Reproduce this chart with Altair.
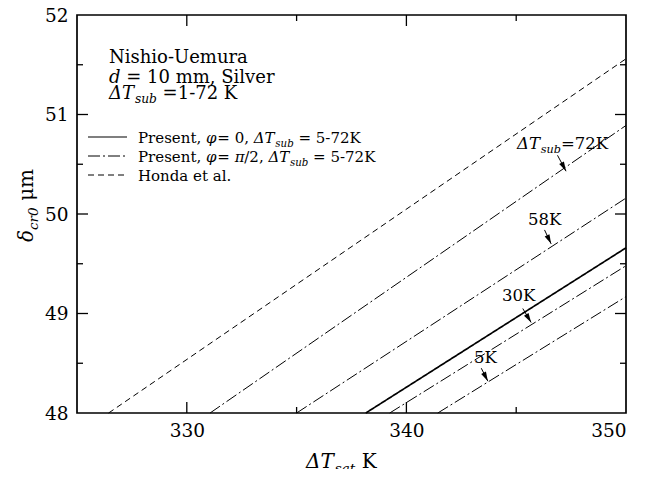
import math
import altair as alt
import pandas as pd

# ---------------- data ----------------
series = ["Honda et al.", "72K", "58K", "Present phi=0", "30K", "5K"]
kinds = ["dashed", "dashdot", "dashdot", "solid", "dashdot", "dashdot"]
x_start = [326.44, 331.06, 335.0, 338.15, 339.24, 341.43]
y_start = [48.0, 48.0, 48.0, 48.0, 48.0, 48.0]
x_end = [350.0, 350.0, 350.0, 350.0, 350.0, 350.0]
y_end = [51.56, 50.89, 50.16, 49.66, 49.48, 49.17]

x_labels = [330, 340, 350]
y_labels = [48, 49, 50, 51, 52]
x_ticks_major = [330, 340]
x_ticks_minor = [335, 345]
y_ticks_major = [49, 50, 51]
y_ticks_minor = [48.5, 49.5, 50.5, 51.5]

arrow_x1 = [346.88, 346.29, 345.30, 343.41]
arrow_y1 = [50.59, 49.84, 49.05, 48.45]
arrow_x2 = [347.27, 346.59, 345.68, 343.71]
arrow_y2 = [50.43, 49.70, 48.91, 48.32]

# ---------------- layout ----------------
XD = [325, 350]
YD = [48, 52]
W, H = 549, 398
LEFT, TOP = 77, 15  # page position of plot origin
FONT = "DejaVu Serif"


def to_dx(page_x):
    return XD[0] + (page_x - LEFT) / W * (XD[1] - XD[0])


def to_dy(page_y):
    return YD[1] - (page_y - TOP) / H * (YD[1] - YD[0])


xs = alt.Scale(domain=XD, nice=False, zero=False)
ys = alt.Scale(domain=YD, nice=False, zero=False)
xaxis = alt.Axis(values=x_labels, title=None, labelPadding=8, format="d")
yaxis = alt.Axis(values=y_labels, title=None, labelPadding=9, format="d")


def X(f):
    return alt.X(f, type="quantitative", scale=xs, axis=xaxis)


def Y(f):
    return alt.Y(f, type="quantitative", scale=ys, axis=yaxis)


rows = []
for s, k, xa, ya, xb, yb in zip(series, kinds, x_start, y_start, x_end, y_end):
    rows.append(dict(series=s, kind=k, x=xa, y=ya, o=0))
    rows.append(dict(series=s, kind=k, x=xb, y=yb, o=1))
ldf = pd.DataFrame(rows)

dash = {"dashed": [6, 4], "dashdot": [12, 3, 2, 3], "solid": [1, 0]}
widths = {"dashed": 1.0, "dashdot": 1.0, "solid": 1.7}
layers = []
for k in ["dashed", "dashdot", "solid"]:
    layers.append(
        alt.Chart(ldf[ldf.kind == k]).mark_line(
            color="black", strokeWidth=widths[k], strokeDash=dash[k]
        ).encode(x=X("x"), y=Y("y"), detail="series:N", order="o:Q")
    )

# ---------------- inward ticks on all four sides ----------------
def xticks(vals, length):
    d = pd.DataFrame({"v": vals})
    b = alt.Chart(d).mark_rule(color="black", strokeWidth=1.3).encode(
        x=X("v"), y=alt.value(H), y2=alt.value(H - length))
    t = alt.Chart(d).mark_rule(color="black", strokeWidth=1.3).encode(
        x=X("v"), y=alt.value(0), y2=alt.value(length))
    return [b, t]


def yticks(vals, length):
    d = pd.DataFrame({"v": vals})
    l = alt.Chart(d).mark_rule(color="black", strokeWidth=1.3).encode(
        y=Y("v"), x=alt.value(0), x2=alt.value(length))
    r = alt.Chart(d).mark_rule(color="black", strokeWidth=1.3).encode(
        y=Y("v"), x=alt.value(W), x2=alt.value(W - length))
    return [l, r]


layers += xticks(x_ticks_major, 11) + xticks(x_ticks_minor, 6)
layers += yticks(y_ticks_major, 11) + yticks(y_ticks_minor, 6)

# ---------------- arrows ----------------
adf = pd.DataFrame({"x1": arrow_x1, "y1": arrow_y1, "x2": arrow_x2, "y2": arrow_y2})
angles = []
for a, b, c, d in zip(arrow_x1, arrow_y1, arrow_x2, arrow_y2):
    dxp = (c - a) * W / (XD[1] - XD[0])
    dyp = (b - d) * H / (YD[1] - YD[0])
    angles.append(360 - math.degrees(math.atan2(dxp, dyp)))
adf["ang"] = angles
layers.append(
    alt.Chart(adf).mark_rule(color="black", strokeWidth=1).encode(
        x=X("x1"), y=Y("y1"), x2="x2:Q", y2="y2:Q")
)
layers.append(
    alt.Chart(adf).mark_point(
        shape="M0,0 L-0.28,-1 L0.28,-1 Z", filled=True, color="black",
        opacity=1, size=360, strokeWidth=0
    ).encode(x=X("x2"), y=Y("y2"), angle=alt.Angle("ang:Q", scale=None))
)

# ---------------- legend sample lines ----------------
leg_y = [137, 156, 175]
leg_kind = ["solid", "dashdot", "dashed"]
for yy, k in zip(leg_y, leg_kind):
    d = pd.DataFrame({"x": [to_dx(88)], "x2": [to_dx(127)], "y": [to_dy(yy)]})
    layers.append(
        alt.Chart(d).mark_rule(color="black", strokeWidth=widths[k] if k != "solid" else 1.2,
                               strokeDash=dash[k]).encode(x=X("x"), x2="x2:Q", y=Y("y"))
    )

# ---------------- rich text pieces (DejaVu Serif advance widths, em) ----------------
CW = {" ": 0.318, ",": 0.318, ".": 0.318, "-": 0.338, "=": 0.838, "K": 0.77,
      "P": 0.683, "r": 0.478, "e": 0.592, "s": 0.513, "n": 0.644, "t": 0.402,
      "H": 0.875, "o": 0.602, "d": 0.64, "a": 0.596, "l": 0.32, "m": 0.948,
      "S": 0.685, "i": 0.32, "v": 0.565, "N": 0.87, "h": 0.644, "U": 0.812,
      "u": 0.644, "/": 0.337, "Δ": 0.77, "T": 0.668, "b": 0.64, "φ": 0.75,
      "π": 0.64, "δ": 0.6, "c": 0.56, "μ": 0.66, "0": 0.636, "1": 0.636,
      "2": 0.636, "5": 0.636, "7": 0.636, "8": 0.636, "3": 0.636}


def tw(s, size):
    return sum(CW.get(ch, 0.6) for ch in s) * size


pieces = []


def add_line(x0, base_y, segs, fs):
    x = x0
    for text, it, sc, dy in segs:
        sz = fs * sc
        stripped = text.lstrip(" ")
        x += tw(text[: len(text) - len(stripped)], sz)
        pieces.append(dict(x=to_dx(x), y=to_dy(base_y + dy), text=stripped,
                           size=sz, it=it))
        x += tw(stripped, sz)


N, I = False, True
SUB = 0.68
# info block
add_line(109, 63, [("Nishio-Uemura", N, 1, 0)], 18)
add_line(109, 83, [("d", I, 1, 0), (" = 10 mm, Silver", N, 1, 0)], 18)
add_line(109, 99, [("ΔT", I, 1, 0), ("sub", I, SUB, 4), (" =1-72 K", N, 1, 0)], 18)
# legend text
add_line(138, 143, [("Present, ", N, 1, 0), ("φ", I, 1, 0), ("= 0, ", N, 1, 0),
                    ("ΔT", I, 1, 0), ("sub", I, SUB, 4), (" = 5-72K", N, 1, 0)], 15)
add_line(138, 162, [("Present, ", N, 1, 0), ("φ", I, 1, 0), ("= ", N, 1, 0),
                    ("π", I, 1, 0), ("/2, ", N, 1, 0),
                    ("ΔT", I, 1, 0), ("sub", I, SUB, 4), (" = 5-72K", N, 1, 0)], 15)
add_line(138, 181, [("Honda et al.", N, 1, 0)], 15)
# line labels
add_line(517, 149, [("ΔT", I, 1, 0), ("sub", I, SUB, 4), ("=72K", N, 1, 0)], 16.5)
add_line(528, 225, [("58K", N, 1, 0)], 16.5)
add_line(502, 301, [("30K", N, 1, 0)], 16.5)
add_line(474, 363, [("5K", N, 1, 0)], 16.5)
# x title
add_line(306, 468, [("ΔT", I, 1, 0), ("sat", I, SUB, 5), (" K", N, 1, 0)], 20)

tdf = pd.DataFrame(pieces)
for it in [False, True]:
    sub = tdf[tdf.it == it]
    layers.append(
        alt.Chart(sub).mark_text(
            font=FONT, fontStyle="italic" if it else "normal", align="left",
            baseline="alphabetic", color="black"
        ).encode(x=X("x"), y=Y("y"), text="text:N", size=alt.Size("size:Q", scale=None))
    )

# y title, rotated (reads bottom to top)
rp = []
yb = 242
bx = 33
for text, it, sc, dxo in [("δ", I, 1, 0), ("cr0", I, SUB, 5), (" μm", N, 1, 0)]:
    sz = 20 * sc
    stripped = text.lstrip(" ")
    yb -= tw(text[: len(text) - len(stripped)], sz)
    rp.append(dict(x=to_dx(bx + dxo), y=to_dy(yb), text=stripped, size=sz, it=it))
    yb -= tw(stripped, sz)
rdf = pd.DataFrame(rp)
for it in [False, True]:
    sub = rdf[rdf.it == it]
    layers.append(
        alt.Chart(sub).mark_text(
            font=FONT, fontStyle="italic" if it else "normal", align="left",
            baseline="alphabetic", color="black", angle=270
        ).encode(x=X("x"), y=Y("y"), text="text:N", size=alt.Size("size:Q", scale=None))
    )

chart = alt.layer(*layers).properties(
    width=W, height=H,
    autosize=alt.AutoSizeParams(type="none"),
    padding={"left": 69, "top": 7, "right": 11, "bottom": 56},
    background="white",
).configure_axis(
    labelFont=FONT, labelFontSize=18.5, labelColor="black",
    ticks=False, domain=False, grid=False,
).configure_view(stroke="black", strokeWidth=1.7)

chart.save("out.html", embed_options={"renderer": "svg", "actions": False})
